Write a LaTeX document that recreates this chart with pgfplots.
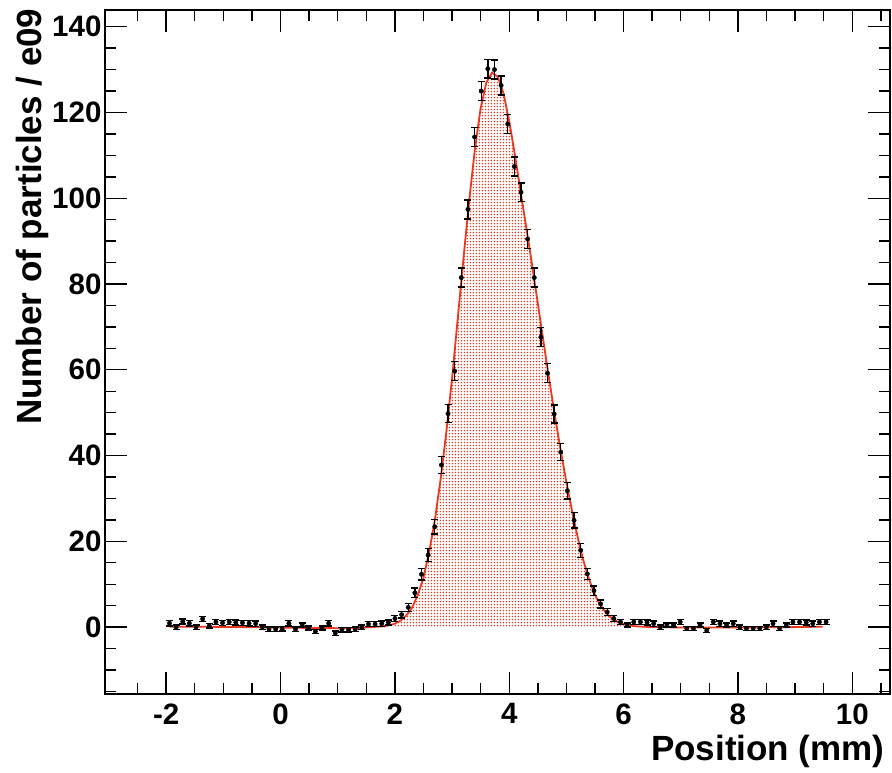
\documentclass[border=0pt]{standalone}
\usepackage{fontspec}
\setmainfont{Liberation Sans}
\usepackage{pgfplots}
\pgfplotsset{compat=1.18}
\usepackage{pgfplotstable}
\usetikzlibrary{patterns}
\definecolor{fitred}{RGB}{235,55,30}
\pgfdeclarepatternformonly{bigdots}{\pgfpointorigin}{\pgfqpoint{3.4pt}{3.4pt}}{\pgfqpoint{3.4pt}{3.4pt}}{%
  \pgfpathcircle{\pgfqpoint{1.7pt}{1.7pt}}{0.9pt}\pgfusepath{fill}}

\pgfplotstableread{
x y e
-1.942 0.9 0.6
-1.826 0.0 0.5
-1.710 1.3 0.6
-1.594 0.9 0.6
-1.478 0.0 0.5
-1.362 1.9 0.6
-1.246 0.3 0.5
-1.130 1.2 0.6
-1.014 1.0 0.6
-0.898 1.2 0.6
-0.782 1.1 0.6
-0.666 1.0 0.6
-0.550 0.9 0.6
-0.434 0.8 0.6
-0.318 0.0 0.5
-0.202 -0.5 0.5
-0.086 -0.5 0.5
0.030 -0.4 0.5
0.146 0.9 0.6
0.262 -0.5 0.5
0.378 0.5 0.5
0.494 -0.2 0.5
0.610 -1.0 0.5
0.726 -0.2 0.5
0.842 0.9 0.6
0.958 -1.4 0.5
1.074 -0.6 0.5
1.190 -0.6 0.5
1.306 -0.5 0.5
1.422 0.0 0.5
1.538 0.7 0.6
1.654 0.7 0.6
1.770 0.8 0.6
1.886 1.1 0.6
2.002 2.0 0.7
2.118 2.9 0.8
2.234 4.6 0.9
2.350 8.0 1.1
2.466 12.3 1.3
2.582 16.8 1.5
2.698 23.4 1.7
2.814 37.8 2.0
2.930 49.8 2.1
3.046 59.7 2.2
3.162 81.5 2.2
3.278 97.4 2.2
3.394 114.3 2.2
3.510 125.0 2.2
3.626 130.2 2.2
3.742 130.0 2.2
3.858 126.3 2.2
3.974 117.3 2.2
4.090 107.4 2.2
4.206 101.4 2.2
4.322 90.5 2.2
4.438 81.5 2.2
4.554 67.6 2.2
4.670 59.2 2.2
4.786 49.7 2.1
4.902 40.8 2.0
5.018 31.8 1.9
5.134 24.9 1.8
5.250 17.9 1.6
5.366 12.4 1.3
5.482 8.5 1.1
5.598 5.4 0.9
5.714 3.5 0.8
5.830 2.0 0.7
5.946 1.2 0.6
6.062 0.5 0.5
6.178 1.2 0.6
6.294 1.2 0.6
6.410 1.1 0.6
6.526 0.8 0.6
6.642 0.0 0.5
6.758 0.5 0.5
6.874 0.5 0.5
6.990 1.2 0.6
7.106 -0.3 0.5
7.222 -0.3 0.5
7.338 0.5 0.5
7.454 -0.8 0.5
7.570 1.2 0.6
7.686 0.8 0.6
7.802 0.5 0.5
7.918 0.8 0.6
8.034 0.0 0.5
8.150 -0.3 0.5
8.266 -0.3 0.5
8.382 -0.3 0.5
8.498 0.0 0.5
8.614 0.8 0.6
8.730 -0.3 0.5
8.846 0.5 0.5
8.962 1.2 0.6
9.078 1.2 0.6
9.194 1.1 0.6
9.310 0.8 0.6
9.426 1.2 0.6
9.542 1.2 0.6
}\datatab

\pgfplotstableread{
x y
-1.94 0.1
-1.0 0.05
0.0 -0.1
0.5 -0.2
1.0 -0.25
1.4 -0.2
1.6 0.0
1.8 0.2
1.9 0.4
2.0 0.8
2.1 1.5
2.2 2.7
2.3 4.5
2.4 7.5
2.5 11.5
2.6 17.5
2.7 25.0
2.8 34.5
2.9 45.5
3.0 58.0
3.1 72.0
3.2 86.0
3.3 99.5
3.4 111.5
3.5 121.0
3.6 127.0
3.7 129.3
3.8 128.3
3.9 124.5
4.0 118.0
4.1 110.0
4.2 101.5
4.3 93.0
4.4 84.5
4.5 75.5
4.6 66.5
4.7 57.7
4.8 49.2
4.9 41.2
5.0 33.8
5.1 27.0
5.2 20.8
5.3 15.4
5.4 11.0
5.5 7.5
5.6 5.0
5.7 3.2
5.8 2.0
5.9 1.2
6.0 0.7
6.1 0.4
6.2 0.2
6.4 0.05
7.0 -0.1
8.0 -0.1
9.0 0.0
9.48 0.1
}\fittab

\begin{document}
\begin{tikzpicture}
\useasboundingbox (0,0) rectangle (892pt,772pt);
\begin{axis}[
  at={(105pt,78pt)}, anchor=south west,
  scale only axis, width=785pt, height=684pt,
  xmin=-3.07, xmax=10.66, ymin=-15.6, ymax=143.9,
  xtick distance=2, ytick distance=20,
  minor xtick={-2.5,-2,...,10.5},
  minor ytick={-15,-10,...,140},
  tick align=inside,
  major tick length=22pt, minor tick length=11pt,
  axis line style={line width=1.6pt},
  every tick/.style={line width=1.4pt, black},
  every minor tick/.style={line width=1.4pt, black},
  /pgf/number format/assume math mode=true,
  ticklabel style={font=\bfseries\fontsize{29.5}{29.5}\selectfont},
  xticklabel style={yshift=-6pt},
  label style={font=\bfseries\fontsize{35}{35}\selectfont},
  xlabel={Position (mm)},
  ylabel={Number of particles / e09},
  xlabel style={at={(axis description cs:1,0)}, anchor=base east, xshift=-2pt, yshift=-66pt},
  ylabel style={at={(axis description cs:-0.0803,1.0073)}, anchor=base east},
]
\addplot[draw=none, pattern=bigdots, pattern color=fitred, restrict x to domain=1.99:6.01, forget plot] table[x=x,y=y]{\fittab} \closedcycle;
\addplot[fitred, line width=1.8pt, no marks] table[x=x,y=y]{\fittab};
\addplot[black, only marks, mark=*, mark size=2.2pt,
  error bars/.cd, y dir=both, y explicit,
  error bar style={line width=1.4pt},
  error mark options={rotate=90, mark size=3.5pt, line width=1.4pt}]
  table[x=x, y=y, y error=e]{\datatab};
\end{axis}
\end{tikzpicture}
\end{document}
